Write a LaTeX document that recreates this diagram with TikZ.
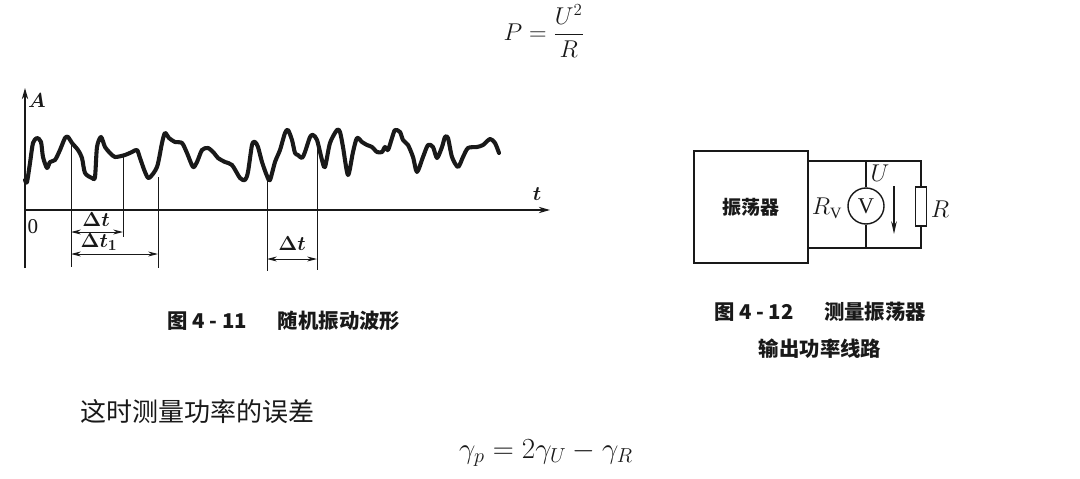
\documentclass[tikz,border=0pt]{standalone}
\usepackage{fontspec}
\usepackage{amsmath}
\setmainfont{Liberation Serif}
\newfontfamily\cjk{Noto Sans CJK SC}
\usetikzlibrary{arrows.meta}
\colorlet{InkBlack}{black!90}

\begin{document}
\begin{tikzpicture}[x=0.025cm, y=-0.025cm, InkBlack,
    axis/.style={line width=0.8pt, -{Stealth[length=8pt, width=4.5pt]}},
    wave/.style={line width=2.9pt, line join=round, line cap=round},
    marker/.style={line width=0.7pt},
    dimline/.style={line width=0.7pt, {Stealth[length=7pt, width=3.5pt]}-{Stealth[length=7pt, width=3.5pt]}},
    wire/.style={line width=1pt},
    lbl/.style={font=\fontsize{15}{17}\selectfont\boldmath, inner sep=0pt},
    ckt/.style={font=\fontsize{16}{18}\selectfont, inner sep=0pt},
    caption/.style={font=\cjk\bfseries\fontsize{14.5}{17}\selectfont, inner sep=0pt}]
    \useasboundingbox (0,0) rectangle (1080,479);

%   formulas and text
    \node (powerEq) at (544,31) {\fontsize{18.5}{22}\selectfont $P=\dfrac{U^2}{R}$};
    \node[anchor=west, inner sep=0pt] (errText) at (80,412) {\cjk\fontsize{18.5}{22}\selectfont 这时测量功率的误差};
    \node (errEq) at (546,453) {\fontsize{20}{24}\selectfont $\gamma_p=2\gamma_U-\gamma_R$};

%   Fig 4-11
    \coordinate (orig) at (25,210);
    \coordinate (yTop) at (25,88);
    \coordinate (yLow) at (25,268);
    \coordinate (xEnd) at (550,210);
    \draw[axis] (yLow) -- (yTop);
    \draw[axis] (orig) -- (xEnd);
    \node[lbl] (labA) at (37,101) {$A$};
    \node[lbl] (labT) at (537,194) {$t$};
    \node[lbl] (labO) at (33,227) {0};

    \draw[wave] plot[smooth, tension=0.45] coordinates {
        (25,180) (27,182) (30,163) (33,143) (37,138) (41,142) (43,157) (47,168)
        (50,162) (55,160) (60,150) (65,138) (68,137) (72,143) (78,150) (82,158)
        (85,173) (92,178) (95,177) (97,147) (101,137) (105,147) (110,153) (115,157)
        (125,155) (132,152) (137,150) (140,158) (145,172) (149,178) (157,167) (162,143)
        (165,133) (169,138) (175,142) (182,143) (187,153) (193,167) (197,162) (202,150)
        (208,148) (214,153) (218,158) (225,162) (232,165) (240,178) (245,180) (248,172)
        (252,145) (255,142) (258,147) (262,162) (267,176) (270,180) (275,162) (280,150)
        (285,133) (288,130) (292,140) (295,153) (298,155) (302,158) (305,152) (310,137)
        (313,135) (317,140) (322,160) (325,167) (330,143) (337,130) (340,132) (343,147)
        (348,175) (353,152) (357,138) (362,142) (367,145) (372,147) (377,152) (382,152)
        (385,147) (388,150) (392,138) (395,130) (400,132) (403,140) (408,145) (413,157)
        (417,172) (423,157) (428,145) (433,147) (437,158) (442,147) (445,137) (448,138)
        (452,157) (458,167) (463,157) (468,148) (477,147) (483,145) (490,139) (495,143)
        (499,153)};

    \foreach \mx/\mtop/\mbot [count=\i] in {71/143/267, 123/155/237, 158/177/268, 267/177/271, 317/137/270} {
        \coordinate (mTop\i) at (\mx,\mtop);
        \coordinate (mBot\i) at (\mx,\mbot);
        \draw[marker] (mTop\i) -- (mBot\i);
    }
    \draw[dimline] (mTop1 |- 0,232) -- (mTop2 |- 0,232);
    \draw[dimline] (mTop1 |- 0,254) -- (mTop3 |- 0,254);
    \draw[dimline] (mTop4 |- 0,259) -- (mTop5 |- 0,259);
    \node[lbl] (labDt) at (96,220) {$\Delta t$};
    \node[lbl] (labDtOne) at (99,242) {$\Delta t_1$};
    \node[lbl] (labDtTwo) at (292,244) {$\Delta t$};
    \node[caption] (capWave) at (284,321) {图 4 - 11\hspace{1.5em}随机振动波形};

%   Fig 4-12
    \node[draw, wire, line width=1.2pt, minimum width=2.85cm, minimum height=2.8cm,
          font=\cjk\bfseries\fontsize{13.5}{16}\selectfont] (osc) at (751,207) {振荡器};
    \node[draw, wire, circle, minimum size=0.9cm, inner sep=0pt, font=\fontsize{16}{18}\selectfont] (volt) at (866,206) {V};
    \node[draw, wire, rectangle, minimum width=0.275cm, minimum height=0.975cm, inner sep=0pt] (load) at (921,206.5) {};
    \coordinate (topL) at (808,161);
    \coordinate (topR) at (921,161);
    \coordinate (botL) at (808,248);
    \coordinate (botR) at (921,248);
    \draw[wire] (topL) -- (topR) -- (load.north);
    \draw[wire] (botL) -- (botR) -- (load.south);
    \draw[wire] (volt.north) -- (volt.north |- topL);
    \draw[wire] (volt.south) -- (volt.south |- botL);
    \coordinate (uFrom) at (894,186);
    \coordinate (uTo) at (894,234);
    \draw[wire, -{Stealth[length=9pt, width=4pt]}] (uFrom) -- (uTo);
    \node[ckt] (labU) at (880,173) {$U$};
    \node[ckt] (labRv) at (827,208) {$R_{\mathrm{V}}$};
    \node[ckt] (labR) at (940,209) {$R$};
    \node[caption] (capCkt) at (820,312) {图 4 - 12\hspace{1.5em}测量振荡器};
    \node[caption] (capCktTwo) at (820,349) {输出功率线路};

\end{tikzpicture}
\end{document}
